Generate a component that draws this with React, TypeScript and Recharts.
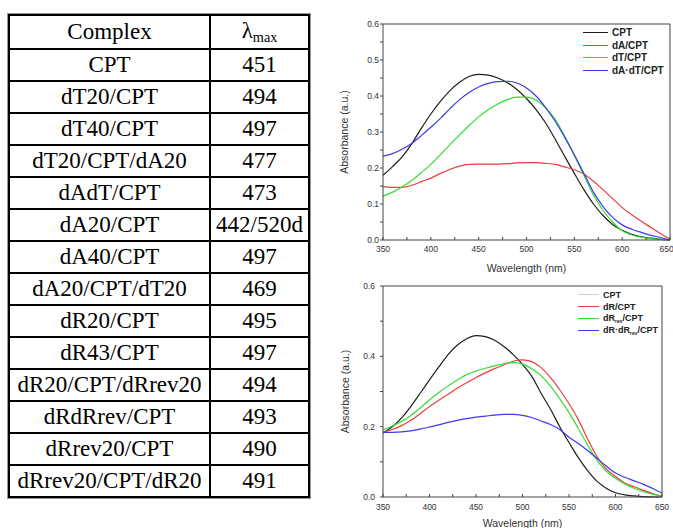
import React from "react";
import { LineChart, Line, XAxis, YAxis, ReferenceLine, Legend } from "recharts";

// table
const complexes = [
  "CPT", "dT20/CPT", "dT40/CPT", "dT20/CPT/dA20", "dAdT/CPT", "dA20/CPT", "dA40/CPT",
  "dA20/CPT/dT20", "dR20/CPT", "dR43/CPT", "dR20/CPT/dRrev20", "dRdRrev/CPT",
  "dRrev20/CPT", "dRrev20/CPT/dR20",
];
const lambdaMax = ["451", "494", "497", "477", "473", "442/520d", "497", "469", "495", "497", "494", "493", "490", "491"];

// spectra, both panels sampled every 10 nm
const wavelengths = [350, 360, 370, 380, 390, 400, 410, 420, 430, 440, 450, 460, 470, 480, 490, 500,
  510, 520, 530, 540, 550, 560, 570, 580, 590, 600, 610, 620, 630, 640, 650];

// top panel
const cptA = [0.18, 0.204, 0.231, 0.267, 0.31, 0.35, 0.385, 0.415, 0.438, 0.454, 0.46, 0.458, 0.45, 0.437, 0.418, 0.393,
  0.362, 0.325, 0.28, 0.232, 0.185, 0.14, 0.1, 0.068, 0.043, 0.027, 0.016, 0.009, 0.005, 0.002, 0.0];
const dA = [0.148, 0.146, 0.146, 0.152, 0.162, 0.172, 0.185, 0.196, 0.205, 0.21, 0.211, 0.211, 0.211, 0.212, 0.214, 0.215,
  0.215, 0.213, 0.21, 0.203, 0.195, 0.183, 0.163, 0.14, 0.115, 0.09, 0.07, 0.052, 0.035, 0.018, 0.002];
const dT = [0.122, 0.133, 0.147, 0.165, 0.187, 0.21, 0.237, 0.265, 0.292, 0.318, 0.342, 0.362, 0.378, 0.39, 0.397, 0.397,
  0.388, 0.367, 0.335, 0.288, 0.235, 0.18, 0.125, 0.082, 0.05, 0.026, 0.014, 0.008, 0.004, 0.002, 0.0];
const dAdT = [0.233, 0.24, 0.252, 0.268, 0.29, 0.313, 0.338, 0.365, 0.39, 0.41, 0.425, 0.435, 0.44, 0.441, 0.436, 0.422,
  0.4, 0.368, 0.33, 0.285, 0.237, 0.185, 0.133, 0.093, 0.063, 0.042, 0.03, 0.021, 0.013, 0.007, 0.0];

// bottom panel
const cptR = [0.182, 0.2, 0.225, 0.258, 0.295, 0.333, 0.37, 0.405, 0.432, 0.45, 0.459, 0.456, 0.446, 0.428, 0.405, 0.377,
  0.343, 0.295, 0.25, 0.2, 0.155, 0.112, 0.075, 0.045, 0.025, 0.012, 0.006, 0.003, 0.001, 0.0, 0.0];
const dR = [0.184, 0.192, 0.203, 0.218, 0.237, 0.257, 0.275, 0.292, 0.31, 0.325, 0.34, 0.353, 0.365, 0.376, 0.386, 0.39,
  0.385, 0.368, 0.34, 0.305, 0.265, 0.22, 0.165, 0.115, 0.08, 0.058, 0.04, 0.029, 0.019, 0.01, 0.002];
const dRrev = [0.191, 0.202, 0.215, 0.232, 0.253, 0.276, 0.297, 0.316, 0.333, 0.348, 0.358, 0.366, 0.373, 0.379, 0.382, 0.378,
  0.365, 0.345, 0.315, 0.28, 0.24, 0.195, 0.148, 0.105, 0.074, 0.053, 0.037, 0.025, 0.015, 0.008, 0.002];
const dRdRrev = [0.184, 0.184, 0.185, 0.188, 0.193, 0.199, 0.205, 0.212, 0.218, 0.223, 0.227, 0.23, 0.233, 0.235, 0.235, 0.232,
  0.226, 0.216, 0.206, 0.192, 0.17, 0.152, 0.132, 0.11, 0.088, 0.068, 0.056, 0.046, 0.036, 0.024, 0.011];

const xTicks = [350, 375, 400, 425, 450, 475, 500, 525, 550, 575, 600, 625, 650];
const yTicksTop = [0, 0.05, 0.1, 0.15, 0.2, 0.25, 0.3, 0.35, 0.4, 0.45, 0.5, 0.55, 0.6];
const yTicksBottom = [0, 0.1, 0.2, 0.3, 0.4, 0.5, 0.6];

const topData = wavelengths.map((w, i) => ({ w, cpt: cptA[i], dA: dA[i], dT: dT[i], dAdT: dAdT[i] }));
const bottomData = wavelengths.map((w, i) => ({ w, cpt: cptR[i], dR: dR[i], dRrev: dRrev[i], dRdRrev: dRdRrev[i] }));

const BLACK = "#1e1e1e";
const RED = "#ee3d3d";
const GREEN = "#33de33";
const BLUE = "#3a3aee";
const AXIS = "#444";
const FONT = "'Liberation Sans', Arial, sans-serif";

const tickStyle = { fontSize: 8.5, fill: "#333", fontFamily: FONT };
const titleStyle = { fontSize: 10.5, fill: "#333", fontFamily: FONT };

const fmtX = (v: number) => (v % 50 === 0 ? String(v) : "");
const fmtY = (step: number) => (v: number) =>
  Math.round(v * 100) % Math.round(step * 100) === 0 ? v.toFixed(1) : "";

function makeLegend(items: { color: string; label: React.ReactNode }[], lineW: number, rowH: number, fontSize: number) {
  return () => (
    <div style={{ fontFamily: FONT, fontWeight: "bold", fontSize, color: "#222" }}>
      {items.map((it, i) => (
        <div key={i} style={{ display: "flex", alignItems: "center", height: rowH }}>
          <div style={{ width: lineW, height: 0, borderTop: `1.2px solid ${it.color}`, marginRight: 4 }} />
          <span style={{ whiteSpace: "nowrap" }}>{it.label}</span>
        </div>
      ))}
    </div>
  );
}

function Sub({ t }: { t: string }) {
  return <sub style={{ fontSize: "0.55em", verticalAlign: "-0.35em" }}>{t}</sub>;
}

function TopChart() {
  const legend = makeLegend(
    [
      { color: BLACK, label: "CPT" },
      { color: RED, label: "dA/CPT" },
      { color: GREEN, label: "dT/CPT" },
      { color: BLUE, label: "dA·dT/CPT" },
    ],
    25, 12.8, 10
  );
  return (
    <LineChart width={343} height={275} data={topData} margin={{ top: 24, right: 3, left: 0, bottom: 0 }}>
      <XAxis
        dataKey="w" type="number" domain={[350, 650]} ticks={xTicks} tickFormatter={fmtX}
        height={35} stroke={AXIS} tickSize={-3} tickMargin={9} tick={tickStyle}
        label={{ value: "Wavelength (nm)", position: "insideBottom", offset: 3, style: titleStyle }}
      />
      <YAxis
        type="number" domain={[0, 0.6]} ticks={yTicksTop} tickFormatter={fmtY(0.1)}
        width={53} stroke={AXIS} tickSize={3} tickMargin={1} tick={tickStyle}
        label={{ value: "Absorbance (a.u.)", angle: -90, position: "center", dx: -12, style: { ...titleStyle, textAnchor: "middle" } }}
      />
      <ReferenceLine y={0.6} stroke={AXIS} />
      <ReferenceLine x={650} stroke={AXIS} />
      <Legend layout="vertical" align="center" verticalAlign="middle" content={legend}
        wrapperStyle={{ left: 253, top: 26, width: 90, height: 52 }} />
      <Line type="monotone" dataKey="cpt" stroke={BLACK} strokeWidth={1.2} dot={false} isAnimationActive={false} />
      <Line type="monotone" dataKey="dA" stroke={RED} strokeWidth={1.2} dot={false} isAnimationActive={false} />
      <Line type="monotone" dataKey="dT" stroke={GREEN} strokeWidth={1.2} dot={false} isAnimationActive={false} />
      <Line type="monotone" dataKey="dAdT" stroke={BLUE} strokeWidth={1.2} dot={false} isAnimationActive={false} />
    </LineChart>
  );
}

function BottomChart() {
  const legend = makeLegend(
    [
      { color: "#cfcfcf", label: "CPT" },
      { color: RED, label: "dR/CPT" },
      { color: GREEN, label: <>dR<Sub t="rev" />/CPT</> },
      { color: BLUE, label: <>dR·dR<Sub t="rev" />/CPT</> },
    ],
    21, 11.8, 9
  );
  return (
    <LineChart width={343} height={253} data={bottomData} margin={{ top: 11, right: 11, left: 0, bottom: 0 }}>
      <XAxis
        dataKey="w" type="number" domain={[350, 650]} ticks={xTicks} tickFormatter={fmtX}
        height={31} stroke={AXIS} tickSize={-3} tickMargin={10} tick={tickStyle}
        label={{ value: "Wavelength (nm)", position: "insideBottom", offset: 1, style: titleStyle }}
      />
      <YAxis
        type="number" domain={[0, 0.6]} ticks={yTicksBottom} tickFormatter={fmtY(0.2)}
        width={53} stroke={AXIS} tickSize={3} tickMargin={5} tick={tickStyle}
        label={{ value: "Absorbance (a.u.)", angle: -90, position: "center", dx: -11, style: { ...titleStyle, textAnchor: "middle" } }}
      />
      <ReferenceLine y={0.6} stroke={AXIS} />
      <ReferenceLine x={650} stroke={AXIS} />
      <Legend layout="vertical" align="center" verticalAlign="middle" content={legend}
        wrapperStyle={{ left: 248, top: 14, width: 95, height: 50 }} />
      <Line type="monotone" dataKey="cpt" stroke={BLACK} strokeWidth={1.2} dot={false} isAnimationActive={false} />
      <Line type="monotone" dataKey="dR" stroke={RED} strokeWidth={1.2} dot={false} isAnimationActive={false} />
      <Line type="monotone" dataKey="dRrev" stroke={GREEN} strokeWidth={1.2} dot={false} isAnimationActive={false} />
      <Line type="monotone" dataKey="dRdRrev" stroke={BLUE} strokeWidth={1.2} dot={false} isAnimationActive={false} />
    </LineChart>
  );
}

export default function App() {
  const cell: React.CSSProperties = {
    border: "2px solid #000",
    padding: 0,
    textAlign: "center",
    verticalAlign: "middle",
    whiteSpace: "nowrap",
  };
  return (
    <div style={{ position: "absolute", left: 0, top: 0, width: 673, height: 528, background: "#fff", overflow: "hidden" }}>
      <table
        style={{
          position: "absolute", left: 8, top: 14, width: 302, borderCollapse: "collapse",
          fontFamily: "'Liberation Serif', 'Times New Roman', serif", fontSize: 23, color: "#000",
          outline: "1px solid #999",
        }}
      >
        <tbody>
          <tr style={{ height: 34 }}>
            <td style={{ ...cell, width: 199 }}>Complex</td>
            <td style={cell}>λ<sub style={{ fontSize: "0.62em", verticalAlign: "-0.3em" }}>max</sub></td>
          </tr>
          {complexes.map((c, i) => (
            <tr key={c} style={{ height: 32 }}>
              <td style={cell}>{c}</td>
              <td style={cell}>{lambdaMax[i]}</td>
            </tr>
          ))}
        </tbody>
      </table>
      <div style={{ position: "absolute", left: 330, top: 0 }}>
        <TopChart />
      </div>
      <div style={{ position: "absolute", left: 330, top: 275 }}>
        <BottomChart />
      </div>
    </div>
  );
}
